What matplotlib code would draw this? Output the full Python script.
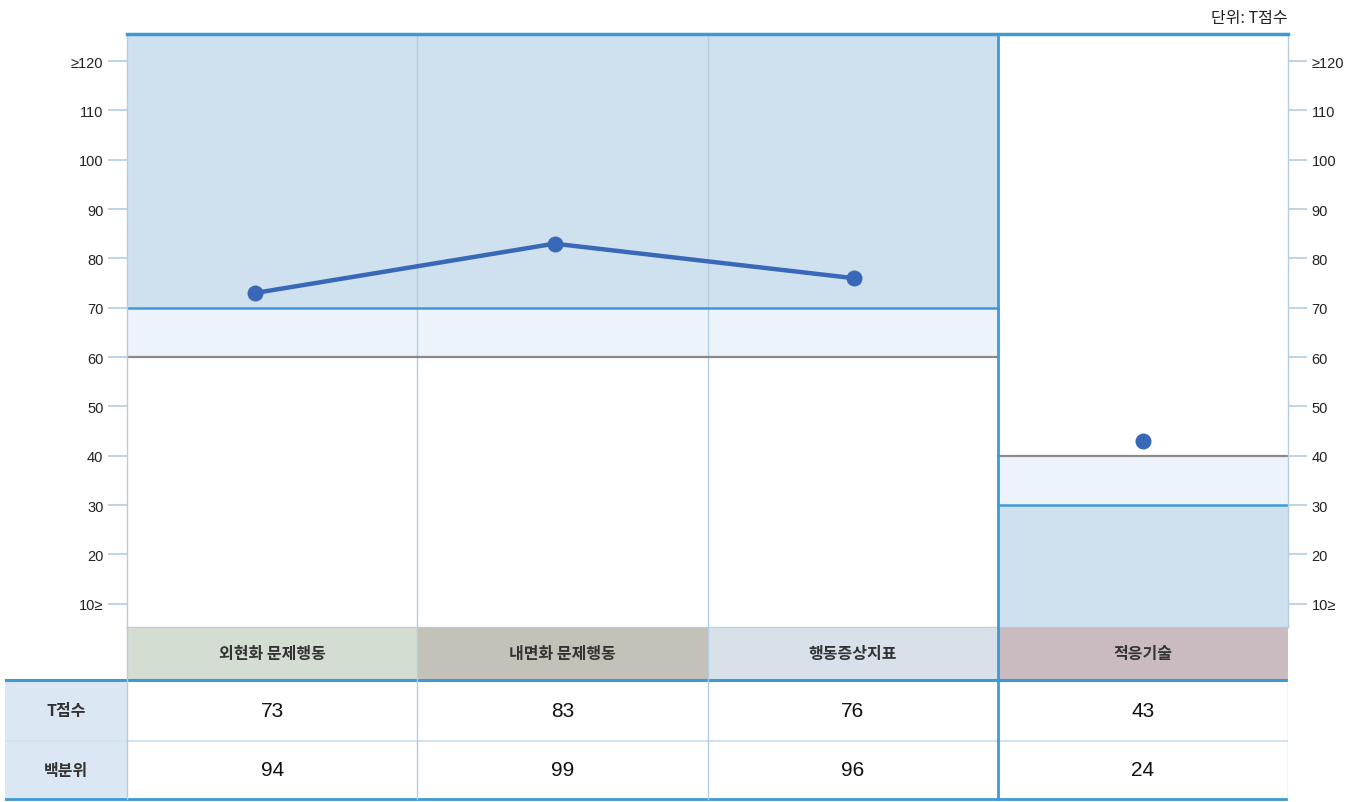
import matplotlib
matplotlib.use("Agg")
import matplotlib.pyplot as plt
from matplotlib.patches import Rectangle

plt.rcParams['font.family'] = ['Noto Sans CJK KR', 'DejaVu Sans']

categories = ["외현화 문제행동", "내면화 문제행동", "행동증상지표", "적응기술"]
t_scores = [73, 83, 76, 43]
percentiles = [94, 99, 96, 24]
row_labels = ["T점수", "백분위"]
tick_values = [10, 20, 30, 40, 50, 60, 70, 80, 90, 100, 110, 120]
tick_labels = ["10≥", "20", "30", "40", "50", "60", "70", "80", "90", "100", "110", "≥120"]
header_colors = ["#d4ddd2", "#c4c2b8", "#d8e0ea", "#c9bbc0"]
unit_text = "단위: T점수"

W, H = 1367, 803
fig = plt.figure(figsize=(W / 100, H / 100), dpi=100)

# main chart axes (pixel-based placement)
L, R, T, B = 127, 1288, 35, 628
ax = fig.add_axes([L / W, 1 - B / H, (R - L) / W, (B - T) / H])
ymin, ymax = 5.3, 125.5
ax.set_xlim(0, 4)
ax.set_ylim(ymin, ymax)

dark = "#cfe0ee"
light = "#edf3fa"
blue = "#3d9ad4"
thin = "#b3cde2"
grey = "#8a8a8a"
pt_color = "#3a68b8"
num_font = ["Liberation Sans", "DejaVu Sans"]

# first three columns: clinical zone high
ax.add_patch(Rectangle((0, 70), 3, ymax - 70, color=dark, lw=0, zorder=0))
ax.add_patch(Rectangle((0, 60), 3, 10, color=light, lw=0, zorder=0))
ax.plot([0, 3], [70, 70], color=blue, lw=1.8, zorder=2)
ax.plot([0, 3], [60, 60], color=grey, lw=1.6, zorder=2)
# adaptive column: low zone
ax.add_patch(Rectangle((3, ymin), 1, 30 - ymin, color=dark, lw=0, zorder=0))
ax.add_patch(Rectangle((3, 30), 1, 10, color=light, lw=0, zorder=0))
ax.plot([3, 4], [30, 30], color=blue, lw=1.8, zorder=2)
ax.plot([3, 4], [40, 40], color=grey, lw=1.6, zorder=2)

# vertical dividers
for xv in [1, 2]:
    ax.axvline(xv, color=thin, lw=1.0, zorder=1)

for s in ["left", "right", "bottom"]:
    ax.spines[s].set_color(thin)
    ax.spines[s].set_linewidth(1.0)
ax.spines["top"].set_color(blue)
ax.spines["top"].set_linewidth(2.5)

ax.set_yticks(tick_values)
ax.set_yticklabels(tick_labels)
ax.set_xticks([])
ax.tick_params(axis="y", which="both", left=True, right=True, labelleft=True,
               labelright=True, length=14, width=1.2, color=thin,
               labelsize=10.5, labelcolor="#222222", pad=3)
for lab in ax.get_yticklabels(which="both"):
    lab.set_family(num_font)
for tk, v in zip(ax.yaxis.get_major_ticks(), tick_values):
    if v == 70:
        tk.tick1line.set_color(blue)
    elif v == 60:
        tk.tick1line.set_color(grey)
    elif v == 40:
        tk.tick2line.set_color(grey)
    elif v == 30:
        tk.tick2line.set_color(blue)

# overlay axes for the problem-behaviour line (3 evenly spaced points)
ax2 = fig.add_axes(ax.get_position(), sharey=ax)
ax2.set_position([L / W, 1 - B / H, (998 - L) / W, (B - T) / H])
step = 299.5
ax2.set_xlim((L - 255) / step, (998 - 255) / step)
ax2.axis("off")
ax2.patch.set_alpha(0)
ax2.plot(range(3), t_scores[:3], color=pt_color, lw=3.2, zorder=4,
         marker="o", markersize=11.5, markeredgewidth=0)

ax.plot([3.5], t_scores[3:], color=pt_color, lw=0, zorder=4,
        marker="o", markersize=11.5, markeredgewidth=0)

fig.text(R / W, 1 - 18 / H, unit_text, ha="right", va="center",
         fontsize=11.5, color="#222222")

# table axes
tL, tR, tT, tB = 5, 1288, 628, 802
tx = fig.add_axes([tL / W, 1 - tB / H, (tR - tL) / W, (tB - tT) / H])
colw = (R - L) / 4
x0 = -(L - tL) / colw
tx.set_xlim(x0, 4)
tx.set_ylim(tB, tT)
tx.axis("off")

hdr_top, hdr_bot, r1_bot, r2_bot = 628, 681, 742, 800
for i, (c, col) in enumerate(zip(categories, header_colors)):
    tx.add_patch(Rectangle((i, hdr_top), 1, hdr_bot - hdr_top, color=col, lw=0))
    tx.text(i + 0.5, (hdr_top + hdr_bot) / 2, c, ha="center", va="center",
            fontsize=11.5, fontweight="bold", color="#333333")
tx.add_patch(Rectangle((x0, hdr_bot), -x0, r2_bot - hdr_bot, color="#dbe7f2", lw=0))
for j, lab in enumerate(row_labels):
    yc = ((hdr_bot + r1_bot) / 2) if j == 0 else ((r1_bot + r2_bot) / 2)
    tx.text(x0 / 2, yc, lab, ha="center", va="center", fontsize=11.5,
            fontweight="bold", color="#333333")
for i in range(4):
    tx.text(i + 0.5, (hdr_bot + r1_bot) / 2, str(t_scores[i]), ha="center",
            va="center", fontsize=15, family=num_font, color="#111111")
    tx.text(i + 0.5, (r1_bot + r2_bot) / 2, str(percentiles[i]), ha="center",
            va="center", fontsize=15, family=num_font, color="#111111")

# table lines
tx.plot([0, 4], [hdr_top, hdr_top], color=thin, lw=1.2)
tx.plot([x0, 4], [hdr_bot, hdr_bot], color=blue, lw=2.2)
tx.plot([x0, 4], [r1_bot, r1_bot], color="#d3e2ef", lw=1.5)
tx.plot([x0, 4], [r2_bot, r2_bot], color=blue, lw=2.0)
for xv in [0, 1, 2]:
    tx.plot([xv, xv], [hdr_top, r2_bot], color=thin, lw=1.0)
tx.plot([4, 4], [hdr_top, r2_bot], color=thin, lw=1.0)
tx.plot([3, 3], [hdr_top, r2_bot], color=blue, lw=2.0)
# thick blue divider through chart
ax.axvline(3, color=blue, lw=2.0, zorder=3)

fig.savefig("out.png", dpi=100)
